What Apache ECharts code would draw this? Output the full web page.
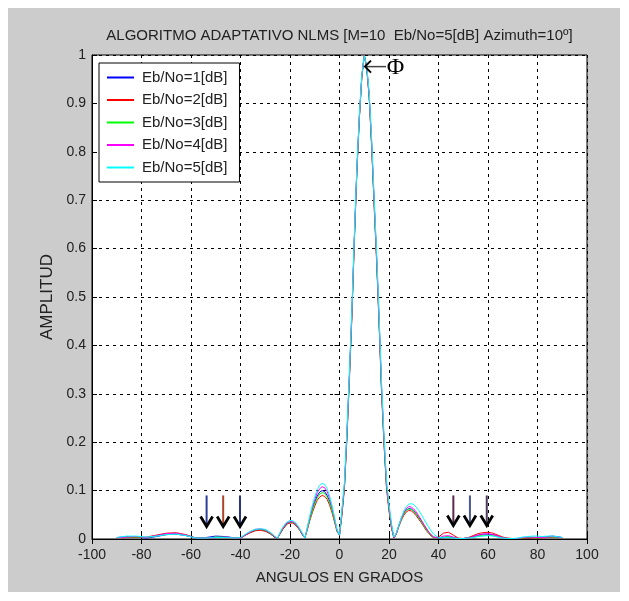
<!DOCTYPE html>
<html>
<head>
<meta charset="utf-8">
<script src="https://cdn.jsdelivr.net/npm/echarts@6/dist/echarts.min.js"></script>
<style>
html,body{margin:0;padding:0;background:#fff;}
#bg{position:absolute;left:8px;top:8px;width:612px;height:584px;background:#cccccc;}
#chart{position:absolute;left:0;top:0;width:629px;height:601px;}
</style>
</head>
<body>
<div id="bg"></div>
<div id="chart"></div>
<script>
// ---- data ----
const TITLE = 'ALGORITMO ADAPTATIVO NLMS [M=10  Eb/No=5[dB] Azimuth=10º]';
const X_NAME = 'ANGULOS EN GRADOS';
const Y_NAME = 'AMPLITUD';
const NAMES = ['Eb/No=1[dB]','Eb/No=2[dB]','Eb/No=3[dB]','Eb/No=4[dB]','Eb/No=5[dB]'];

const ANG = [-90,-86,-82,-78,-74,-70,-66,-62,-58,-54,-50,-46,-42,
-40,-38,-36,-34,-32,-30,-28,
-27,-26,-25,-24,-23,-22,-21,-20,-19,-18,-17,-16,-15,-14,-13,-12,-11,-10,-9,-8,-7,-6,-5,-4,-3,-2,-1,0,
1,2,3,4,5,6,7,8,9,10,11,12,13,14,15,16,17,18,19,20,21,
22,23,24,25,26,27,28,29,30,31,32,33,34,35,36,37,38,
40,42,44,46,48,50,52,54,56,58,60,62,64,66,68,70,72,74,76,78,80,82,84,86,88,90];

const EB1 = [0.003,0.005,0.004,0.002,0.005,0.009,0.010,0.007,0.002,0.003,0.006,0.005,0.002,
0.002,0.008,0.014,0.018,0.019,0.017,0.011,
0.007,0.003,0.002,0.011,0.020,0.027,0.032,0.034,0.034,0.031,0.025,0.018,0.009,0.002,0.021,0.042,0.060,0.076,0.089,0.097,0.100,0.098,0.090,0.078,0.060,0.039,0.017,0.008,
0.054,0.108,0.213,0.334,0.463,0.619,0.758,0.869,0.954,1.000,0.974,0.914,0.813,0.693,0.578,0.448,0.308,0.198,0.108,0.062,0.025,
0.002,0.012,0.028,0.042,0.053,0.060,0.063,0.062,0.058,0.052,0.045,0.037,0.029,0.021,0.014,0.008,0.004,
0.002,0.003,0.004,0.003,0.001,0.001,0.002,0.005,0.008,0.010,0.010,0.009,0.006,0.003,0.001,0.001,0.001,0.002,0.002,0.003,0.003,0.004,0.005,0.006,0.005,0.003];

const EB2 = [0.002,0.003,0.003,0.004,0.008,0.012,0.013,0.009,0.002,0.002,0.003,0.003,0.002,
0.002,0.008,0.013,0.017,0.018,0.016,0.011,
0.007,0.003,0.002,0.011,0.019,0.026,0.031,0.033,0.033,0.030,0.024,0.018,0.009,0.002,0.019,0.038,0.054,0.068,0.080,0.087,0.090,0.088,0.082,0.070,0.054,0.035,0.015,0.008,
0.050,0.104,0.208,0.330,0.458,0.615,0.755,0.866,0.952,1.000,0.972,0.912,0.808,0.688,0.572,0.442,0.302,0.194,0.105,0.058,0.022,
0.002,0.011,0.026,0.039,0.049,0.056,0.059,0.058,0.054,0.048,0.041,0.034,0.026,0.018,0.012,0.006,0.003,
0.004,0.012,0.014,0.008,0.002,0.001,0.003,0.007,0.011,0.013,0.014,0.012,0.008,0.004,0.002,0.001,0.001,0.001,0.002,0.002,0.002,0.002,0.003,0.003,0.003,0.002];

const EB3 = [0.002,0.004,0.004,0.003,0.006,0.010,0.011,0.008,0.002,0.002,0.004,0.004,0.002,
0.002,0.009,0.015,0.019,0.020,0.018,0.012,
0.008,0.004,0.002,0.012,0.021,0.028,0.033,0.035,0.035,0.032,0.026,0.019,0.010,0.002,0.020,0.040,0.058,0.073,0.085,0.093,0.096,0.094,0.087,0.075,0.058,0.038,0.016,0.008,
0.055,0.110,0.215,0.335,0.465,0.620,0.760,0.870,0.955,1.000,0.975,0.915,0.815,0.695,0.580,0.450,0.310,0.200,0.110,0.064,0.026,
0.002,0.012,0.027,0.041,0.052,0.059,0.062,0.061,0.057,0.051,0.044,0.036,0.028,0.020,0.013,0.007,0.003,
0.002,0.004,0.005,0.003,0.001,0.001,0.002,0.004,0.006,0.008,0.008,0.007,0.005,0.003,0.001,0.001,0.001,0.002,0.003,0.003,0.002,0.003,0.004,0.004,0.003,0.002];

const EB4 = [0.002,0.004,0.005,0.003,0.007,0.011,0.012,0.008,0.002,0.002,0.003,0.004,0.002,
0.002,0.009,0.015,0.020,0.021,0.019,0.013,
0.009,0.004,0.002,0.013,0.022,0.029,0.034,0.036,0.036,0.033,0.027,0.020,0.011,0.002,0.023,0.045,0.065,0.082,0.096,0.104,0.108,0.106,0.098,0.084,0.065,0.042,0.018,0.008,
0.058,0.113,0.218,0.340,0.469,0.624,0.762,0.872,0.956,0.999,0.976,0.918,0.820,0.700,0.585,0.456,0.315,0.205,0.115,0.068,0.029,
0.002,0.012,0.028,0.043,0.055,0.063,0.067,0.066,0.062,0.056,0.048,0.040,0.031,0.023,0.015,0.009,0.004,
0.002,0.006,0.007,0.004,0.001,0.001,0.002,0.005,0.008,0.010,0.011,0.009,0.006,0.003,0.001,0.001,0.001,0.003,0.004,0.004,0.003,0.003,0.004,0.005,0.004,0.002];

const EB5 = [0.003,0.006,0.006,0.004,0.006,0.009,0.010,0.007,0.002,0.002,0.003,0.003,0.002,
0.003,0.010,0.016,0.020,0.021,0.020,0.014,
0.010,0.005,0.002,0.014,0.024,0.031,0.036,0.038,0.038,0.035,0.029,0.021,0.012,0.002,0.024,0.048,0.069,0.087,0.102,0.111,0.115,0.113,0.104,0.089,0.069,0.045,0.020,0.008,
0.062,0.118,0.225,0.345,0.475,0.628,0.765,0.875,0.958,0.998,0.978,0.922,0.825,0.705,0.592,0.462,0.322,0.212,0.122,0.072,0.032,
0.004,0.013,0.029,0.045,0.058,0.067,0.072,0.073,0.071,0.066,0.059,0.051,0.042,0.033,0.025,0.017,0.010,
0.003,0.003,0.003,0.002,0.001,0.001,0.002,0.003,0.005,0.006,0.007,0.006,0.004,0.002,0.001,0.001,0.002,0.004,0.005,0.006,0.006,0.005,0.006,0.006,0.005,0.003];

// annotation arrows (angle, top amplitude, tip amplitude)
const ARROW_ANG = [-53.7, -47, -40.2, 46, 52.7, 59.5];
const ARROW_TOP = [0.09, 0.09, 0.09, 0.09, 0.09, 0.09];
const ARROW_TIP = [0.026, 0.026, 0.026, 0.028, 0.028, 0.028];
// "<- Φ" marker: tip angle, tail angle, amplitude, label angle
const PHI_ANNOT = [10.3, 18.8, 0.976, 22.6];
const PHI_TEXT = 'Φ';

// ---- styles ----
const COLORS = ['#0000ff','#ff0000','#00ff00','#ff00ff','#00ffff'];
const SHAFT_COLORS = ['#2a3f9a','#a8452a','#2a3580','#5a2a4a','#4a5a8a','#4a3a5a'];
const SANS = '"Liberation Sans", Arial, Helvetica, sans-serif';

const SERIES_DATA = [EB1, EB2, EB3, EB4, EB5];
const lineSeries = SERIES_DATA.map((arr, i) => ({
  name: NAMES[i],
  type: 'line',
  data: ANG.map((a, k) => [a, arr[k]]),
  symbol: 'none',
  showSymbol: false,
  smooth: false,
  lineStyle: { width: 1, color: COLORS[i] },
  itemStyle: { color: COLORS[i] },
  z: 3 + i
}));

const arrowSeries = {
  type: 'custom',
  name: 'arrows',
  data: ARROW_ANG.map((a, k) => [a, ARROW_TOP[k], ARROW_TIP[k], k]),
  renderItem: function (params, api) {
    const top = api.coord([api.value(0), api.value(1)]);
    const tip = api.coord([api.value(0), api.value(2)]);
    const c = SHAFT_COLORS[api.value(3)];
    return {
      type: 'group',
      children: [
        { type: 'line', shape: { x1: top[0], y1: top[1], x2: tip[0], y2: tip[1] - 2 },
          style: { stroke: c, lineWidth: 2 } },
        { type: 'polyline', shape: { points: [[tip[0] - 6, tip[1] - 10], [tip[0], tip[1]], [tip[0] + 6, tip[1] - 10]] },
          style: { stroke: '#000', lineWidth: 2.8, fill: null } }
      ]
    };
  },
  z: 20,
  silent: true
};

const phiSeries = {
  type: 'custom',
  name: 'phi',
  data: [PHI_ANNOT],
  renderItem: function (params, api) {
    const tip = api.coord([api.value(0), api.value(2)]);
    const tail = api.coord([api.value(1), api.value(2)]);
    const lab = api.coord([api.value(3), api.value(2)]);
    return {
      type: 'group',
      children: [
        { type: 'line', shape: { x1: tip[0] + 1, y1: tip[1], x2: tail[0], y2: tail[1] },
          style: { stroke: '#444', lineWidth: 1.5 } },
        { type: 'polyline', shape: { points: [[tip[0] + 6, tip[1] - 6], [tip[0], tip[1]], [tip[0] + 6, tip[1] + 6]] },
          style: { stroke: '#000', lineWidth: 2, fill: null } },
        { type: 'text', style: { text: PHI_TEXT, x: lab[0], y: lab[1] + 1, align: 'center', verticalAlign: 'middle',
          font: '24px "Liberation Serif", "DejaVu Serif", serif', fill: '#000' } }
      ]
    };
  },
  z: 20,
  silent: true
};

const chart = echarts.init(document.getElementById('chart'), null, { renderer: 'canvas' });
const gridLine = { show: true, lineStyle: { color: '#000', type: [3, 4], width: 1 } };
chart.setOption({
  animation: false,
  backgroundColor: 'transparent',
  grid: { left: 92, right: 42, top: 55, bottom: 62, show: true, backgroundColor: '#ffffff', borderColor: '#000', borderWidth: 1 },
  legend: {
    data: NAMES,
    orient: 'vertical',
    left: 99, top: 63,
    backgroundColor: '#ffffff',
    borderColor: '#000', borderWidth: 1,
    padding: [7, 12, 7, 8],
    icon: 'rect',
    itemWidth: 27, itemHeight: 2, itemGap: 7.5,
    textStyle: { fontFamily: SANS, fontSize: 15, color: '#222', padding: [0, 0, 0, 3] },
    selectedMode: false
  },
  xAxis: [{
    type: 'value', min: -100, max: 100, interval: 20,
    name: X_NAME, nameLocation: 'middle', nameGap: 31,
    nameTextStyle: { fontFamily: SANS, fontSize: 15, color: '#222' },
    axisLine: { show: true, onZero: false, lineStyle: { color: '#000', width: 1 } },
    axisTick: { show: true, inside: true, length: 5, lineStyle: { color: '#000' } },
    axisLabel: { fontFamily: SANS, fontSize: 14, color: '#222', margin: 9 },
    splitLine: gridLine
  }, {
    type: 'value', min: -100, max: 100, interval: 20, position: 'top',
    name: TITLE, nameLocation: 'middle', nameGap: 12,
    nameTextStyle: { fontFamily: SANS, fontSize: 15, color: '#222' },
    axisLine: { show: false },
    axisTick: { show: true, inside: true, length: 5, lineStyle: { color: '#000' } },
    axisLabel: { show: false },
    splitLine: { show: false }
  }],
  yAxis: [{
    type: 'value', min: 0, max: 1, interval: 0.1,
    name: Y_NAME, nameLocation: 'middle', nameGap: 23, nameRotate: 90,
    nameTextStyle: { fontFamily: SANS, fontSize: 17, color: '#222' },
    axisLine: { show: true, onZero: false, lineStyle: { color: '#000', width: 1 } },
    axisTick: { show: true, inside: true, length: 5, lineStyle: { color: '#000' } },
    axisLabel: { fontFamily: SANS, fontSize: 14, color: '#222', margin: 6 },
    splitLine: gridLine
  }, {
    type: 'value', min: 0, max: 1, interval: 0.1, position: 'right',
    axisLine: { show: false },
    axisTick: { show: true, inside: true, length: 5, lineStyle: { color: '#000' } },
    axisLabel: { show: false },
    splitLine: { show: false }
  }],
  series: lineSeries.concat([arrowSeries, phiSeries])
});
</script>
</body>
</html>
